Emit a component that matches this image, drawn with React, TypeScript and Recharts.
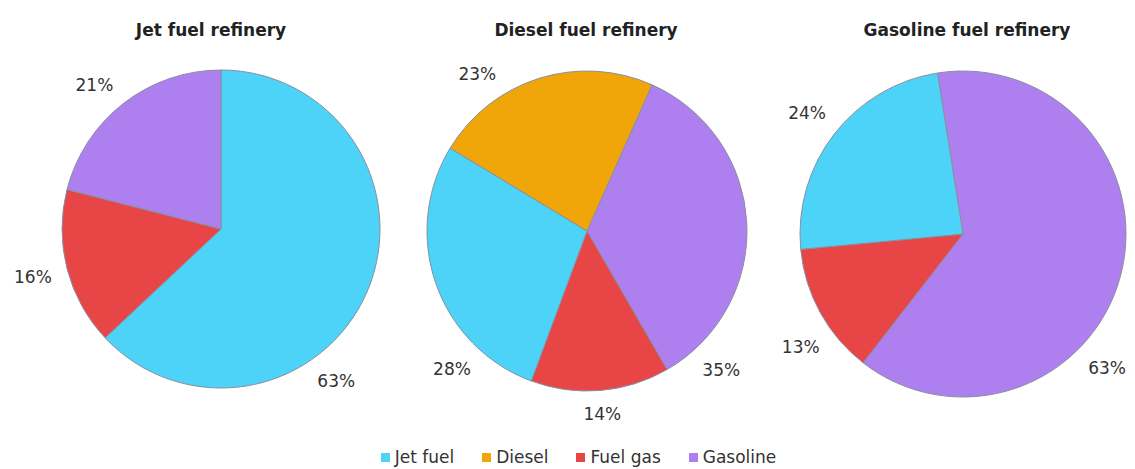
import React from 'react';
import { PieChart, Pie, Cell } from 'recharts';

// Legend categories and colours
const fuels = ['Jet fuel', 'Diesel', 'Fuel gas', 'Gasoline'];
const fuelColors = ['#4DD2F8', '#F0A508', '#E84646', '#AE7FEF'];

const refineryTitles = ['Jet fuel refinery', 'Diesel fuel refinery', 'Gasoline fuel refinery'];

// Slices listed clockwise, with their shares (%)
const jetRefineryFuels = ['Jet fuel', 'Fuel gas', 'Gasoline'];
const jetRefineryShares = [63, 16, 21];
const dieselRefineryFuels = ['Gasoline', 'Fuel gas', 'Jet fuel', 'Diesel'];
const dieselRefineryShares = [35, 14, 28, 23];
const gasolineRefineryFuels = ['Gasoline', 'Fuel gas', 'Jet fuel'];
const gasolineRefineryShares = [63, 13, 24];

const build = (names: string[], values: number[]) =>
  names.map((n, i) => ({ name: n, value: values[i] }));

const pieData = [
  build(jetRefineryFuels, jetRefineryShares),
  build(dieselRefineryFuels, dieselRefineryShares),
  build(gasolineRefineryFuels, gasolineRefineryShares),
];

const FONT = "'DejaVu Sans', Verdana, sans-serif";

// layout of each pie
const layouts = [
  { cx: 221, cy: 229, r: 159, start: 90, box: [25, 337, 84, 400], titleX: 211 },
  { cx: 587, cy: 231, r: 160, start: 66, box: [452, 722, 73, 420], titleX: 586 },
  { cx: 963, cy: 234, r: 163, start: 99, box: [800, 1108, 80, 400], titleX: 967 },
];

const RAD = Math.PI / 180;
const GAP = 15;
const HW = 19;
const HH = 7;

function labelPos(cx: number, cy: number, r: number, ang: number) {
  const c = Math.cos(ang * RAD);
  const s = Math.sin(ang * RAD);
  const rl = r + GAP + HW * Math.abs(c) + HH * Math.abs(s);
  return { x: cx + rl * c, y: cy - rl * s };
}

function makeLabel(box: number[]) {
  return (props: any) => {
    const { cx, cy, midAngle, outerRadius, value } = props;
    const inside = (p: { x: number; y: number }) =>
      p.x >= box[0] && p.x <= box[1] && p.y >= box[2] && p.y <= box[3];
    let pos = labelPos(cx, cy, outerRadius, midAngle);
    if (!inside(pos)) {
      let a: any = null;
      let b: any = null;
      for (let d = 0.5; d <= 120 && (!a || !b); d += 0.5) {
        if (!a) {
          const p = labelPos(cx, cy, outerRadius, midAngle + d);
          if (inside(p)) a = p;
        }
        if (!b) {
          const p = labelPos(cx, cy, outerRadius, midAngle - d);
          if (inside(p)) b = p;
        }
      }
      if (a && b) pos = a.y > b.y ? a : b;
      else pos = a || b || pos;
    }
    return (
      <text
        x={pos.x}
        y={pos.y}
        textAnchor="middle"
        dominantBaseline="central"
        fill="#333333"
        fontSize={17}
        fontFamily={FONT}
      >
        {`${value}%`}
      </text>
    );
  };
}

export default function App() {
  return (
    <div
      style={{
        position: 'absolute',
        left: 0,
        top: 0,
        width: 1135,
        height: 469,
        background: '#ffffff',
        fontFamily: FONT,
        overflow: 'hidden',
      }}
    >
      <PieChart
        width={1135}
        height={469}
        margin={{ top: 0, right: 0, bottom: 0, left: 0 }}
        style={{ position: 'absolute', left: 0, top: 0 }}
      >
        {pieData.map((data, k) => {
          const L = layouts[k];
          return (
            <Pie
              key={k}
              data={data}
              dataKey="value"
              nameKey="name"
              cx={L.cx}
              cy={L.cy}
              outerRadius={L.r}
              startAngle={L.start}
              endAngle={L.start - 360}
              stroke="#8a8fa0"
              strokeWidth={1}
              label={makeLabel(L.box)}
              labelLine={false}
              isAnimationActive={false}
            >
              {data.map((d, i) => (
                <Cell key={i} fill={fuelColors[fuels.indexOf(d.name)]} />
              ))}
            </Pie>
          );
        })}
      </PieChart>
      {refineryTitles.map((t, k) => (
        <div
          key={t}
          style={{
            position: 'absolute',
            left: layouts[k].titleX - 150,
            width: 300,
            top: 19,
            textAlign: 'center',
            fontWeight: 'bold',
            fontSize: 17,
            color: '#222',
            lineHeight: '22px',
          }}
        >
          {t}
        </div>
      ))}
      <div
        style={{
          position: 'absolute',
          left: 11,
          width: 1135,
          top: 447,
          display: 'flex',
          justifyContent: 'center',
          gap: 28,
          fontSize: 17,
          color: '#333',
          lineHeight: '20px',
        }}
      >
        {fuels.map((f, i) => (
          <div key={f} style={{ display: 'flex', alignItems: 'center' }}>
            <span
              style={{
                display: 'inline-block',
                width: 9,
                height: 9,
                background: fuelColors[i],
                marginRight: 5,
              }}
            />
            <span>{f}</span>
          </div>
        ))}
      </div>
    </div>
  );
}
